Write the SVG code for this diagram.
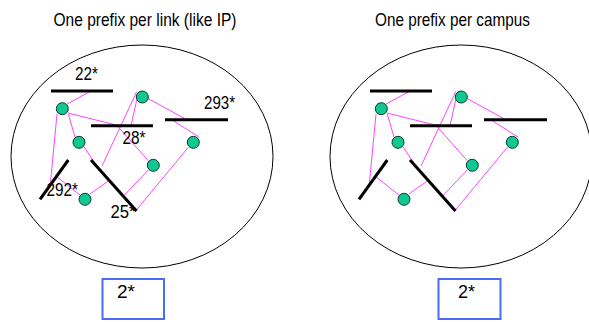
<svg xmlns="http://www.w3.org/2000/svg" width="589" height="322" viewBox="0 0 589 322">
<style>
  .ell{fill:none;stroke:#000;stroke-width:1}
  .bar{stroke:#000;stroke-width:3;stroke-linecap:butt}
  .lk{stroke:#ff44ff;stroke-width:1;fill:none}
  .nd{fill:#10c890;stroke:#0a3a2a;stroke-width:1}
  .t{font-family:"Liberation Sans",Arial,sans-serif;fill:#000}
  .box{fill:#fff;stroke:#4a6cf0;stroke-width:2}
</style>
<defs>
  <g id="net">
    <ellipse class="ell" cx="142" cy="156.5" rx="131" ry="111.5"/>
    <g class="lk">
      <line x1="66.7" y1="104.3" x2="91" y2="91"/>
      <line x1="68" y1="113" x2="120" y2="126"/>
      <line x1="68.3" y1="114" x2="75" y2="137"/>
      <line x1="57" y1="114" x2="50.5" y2="182"/>
      <line x1="56.7" y1="176.7" x2="80" y2="195"/>
      <line x1="90" y1="194" x2="108.3" y2="181"/>
      <line x1="84" y1="146.7" x2="96.7" y2="166"/>
      <line x1="102" y1="166" x2="136.7" y2="91.7"/>
      <line x1="136.7" y1="100" x2="131" y2="125.7"/>
      <line x1="147.7" y1="98.3" x2="186.7" y2="119.7"/>
      <line x1="171.7" y1="119.7" x2="199.3" y2="137.3"/>
      <line x1="188.3" y1="147.3" x2="136" y2="210.5"/>
      <line x1="148.3" y1="170" x2="124" y2="195.5"/>
      <line x1="118.3" y1="127" x2="148.3" y2="160.7"/>
    </g>
    <line class="bar" x1="51" y1="91" x2="113" y2="91"/>
    <line class="bar" x1="91" y1="125.7" x2="153" y2="125.7"/>
    <line class="bar" x1="165" y1="119.7" x2="228" y2="119.7"/>
    <line class="bar" x1="68.3" y1="160" x2="40" y2="199.3"/>
    <line class="bar" x1="91" y1="160" x2="136.5" y2="211"/>
    <circle class="nd" cx="62.3" cy="108.7" r="6"/>
    <circle class="nd" cx="142.3" cy="97" r="6"/>
    <circle class="nd" cx="79" cy="142.3" r="6"/>
    <circle class="nd" cx="193.3" cy="142.3" r="6"/>
    <circle class="nd" cx="153.3" cy="165.3" r="6"/>
    <circle class="nd" cx="85" cy="199.3" r="6"/>
  </g>
</defs>
<text class="t" x="53.5" y="26" font-size="19" textLength="183" lengthAdjust="spacingAndGlyphs">One prefix per link (like IP)</text>
<text class="t" x="375" y="26" font-size="19" textLength="155" lengthAdjust="spacingAndGlyphs">One prefix per campus</text>
<g id="left-net">
  <use href="#net"/>
  <text class="t" x="75" y="80" font-size="18" textLength="23" lengthAdjust="spacingAndGlyphs">22*</text>
  <text class="t" x="122.5" y="144" font-size="18" textLength="23" lengthAdjust="spacingAndGlyphs">28*</text>
  <text class="t" x="204" y="109" font-size="18" textLength="31" lengthAdjust="spacingAndGlyphs">293*</text>
  <text class="t" x="46.5" y="196" font-size="18" textLength="31.5" lengthAdjust="spacingAndGlyphs">292*</text>
  <text class="t" x="110.5" y="218" font-size="18" textLength="25" lengthAdjust="spacingAndGlyphs">25*</text>
</g>
<g id="right-net">
  <use href="#net" transform="translate(319,0)"/>
</g>
<g id="left-box">
  <rect class="box" x="102.5" y="279" width="61.5" height="40"/>
  <text class="t" x="117" y="298" font-size="18" textLength="18" lengthAdjust="spacingAndGlyphs">2*</text>
</g>
<g id="right-box">
  <rect class="box" x="438.5" y="279" width="62" height="40"/>
  <text class="t" x="458" y="298" font-size="18" textLength="17" lengthAdjust="spacingAndGlyphs">2*</text>
</g>
</svg>
